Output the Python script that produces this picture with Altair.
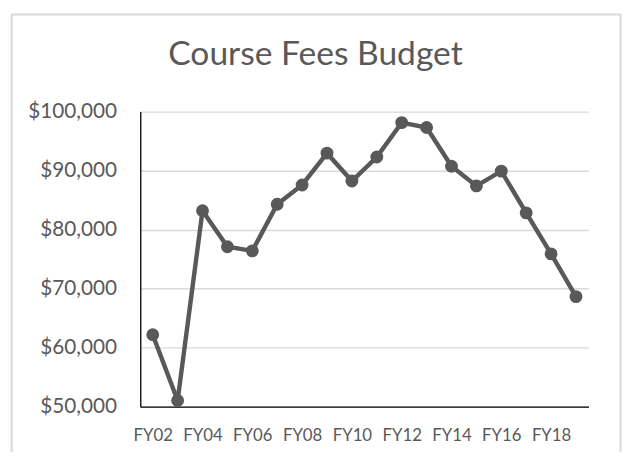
import altair as alt
import pandas as pd

# ---- data ----
years = ["FY02", "FY03", "FY04", "FY05", "FY06", "FY07", "FY08", "FY09", "FY10",
         "FY11", "FY12", "FY13", "FY14", "FY15", "FY16", "FY17", "FY18", "FY19"]
fees = [62200, 51050, 83200, 77100, 76400, 84300, 87560, 92950, 88230,
        92290, 98130, 97300, 90730, 87400, 89900, 82840, 75880, 68650]
x_tick_labels = ["FY02", "FY04", "FY06", "FY08", "FY10", "FY12", "FY14", "FY16", "FY18"]
y_tick_values = [50000, 60000, 70000, 80000, 90000, 100000]
title_text = "Course Fees Budget"

df = pd.DataFrame({"year": years, "fees": fees})

GREY = "#595959"
FONT = "Lato"
PAD_L, PAD_T, PAD_R, PAD_B = 134, 102, 34, 43
W, H = 454, 299

base = alt.Chart(df).encode(
    x=alt.X(
        "year:N",
        sort=years,
        scale=alt.Scale(type="point", padding=0.5),
        axis=alt.Axis(
            values=x_tick_labels, title=None, labelAngle=0, ticks=False, tickSize=0,
            labelPadding=21, labelFont=FONT, labelFontSize=17, labelColor=GREY,
            domainColor="#000000", domainWidth=1.3, grid=False,
        ),
    ),
    y=alt.Y(
        "fees:Q",
        scale=alt.Scale(domain=[50000, 100000], nice=False, zero=False),
        axis=alt.Axis(
            values=y_tick_values, format="$,.0f", title=None, ticks=False, tickSize=0,
            labelPadding=24, labelFont=FONT, labelFontSize=21, labelColor=GREY,
            domainColor="#000000", domainWidth=1.3,
            grid=True, gridColor="#d9d9d9", gridWidth=1.3,
        ),
    ),
)

line = base.mark_line(color=GREY, strokeWidth=4.5)
points = base.mark_circle(color=GREY, size=170, opacity=1)

border = alt.Chart(pd.DataFrame({"b": [0]})).mark_rect(
    filled=False, stroke="#d9d9d9", strokeWidth=2
).encode(
    x=alt.value(-130.3), x2=alt.value(486.5), y=alt.value(-98.3), y2=alt.value(400)
)

chart = alt.layer(border, line, points).properties(
    width=W,
    height=H,
    autosize=alt.AutoSizeParams(type="none"),
    padding={"left": PAD_L, "top": PAD_T, "right": PAD_R, "bottom": PAD_B},
    title=alt.TitleParams(
        title_text, font=FONT, fontSize=34, fontWeight="normal", color=GREY,
        anchor="middle", frame="group", dx=-49.5, offset=0,
        baseline="alphabetic", dy=86,
    ),
    background="white",
).configure_view(stroke=None)

chart.save("out.html", embed_options={"renderer": "svg", "actions": False})
